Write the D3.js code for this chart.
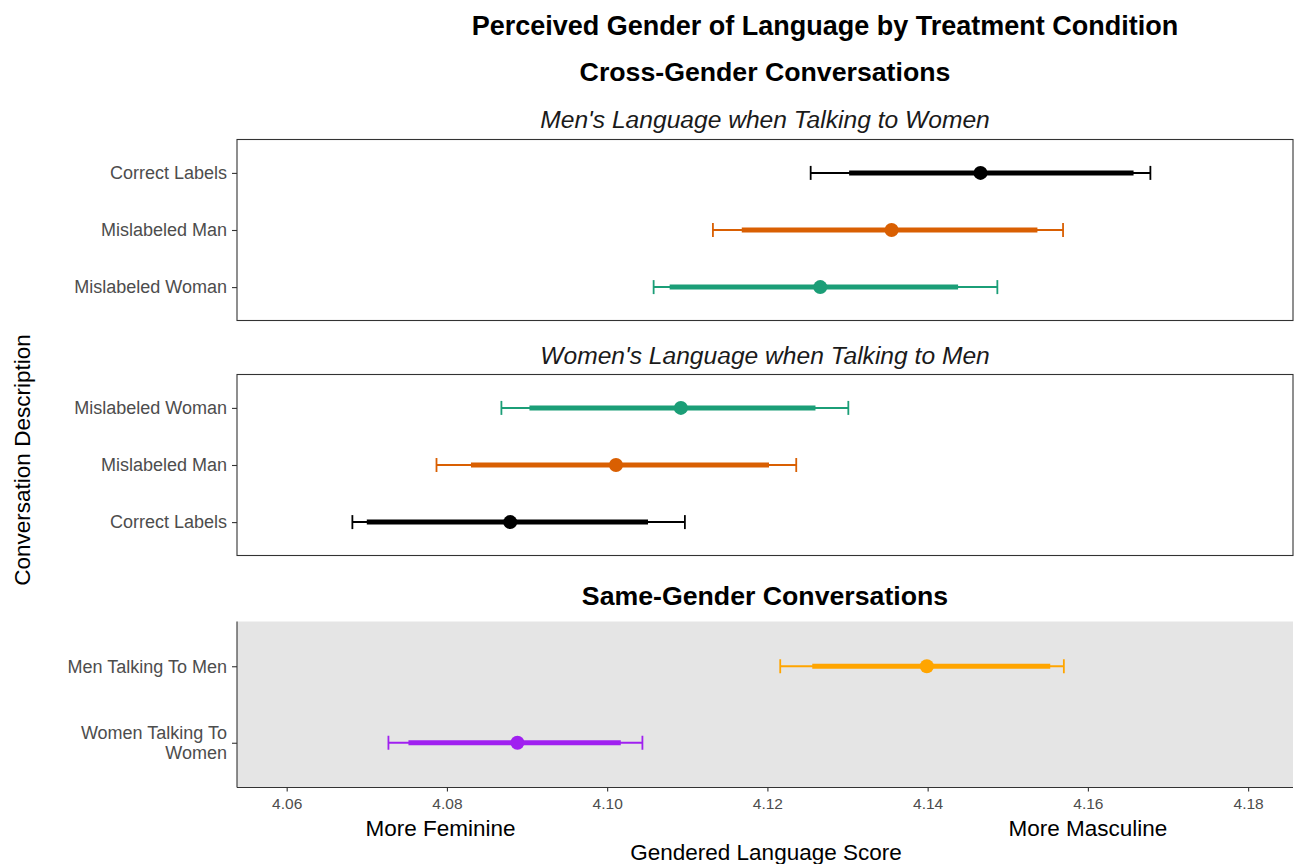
<!DOCTYPE html>
<html>
<head>
<meta charset="utf-8">
<script src="https://cdn.jsdelivr.net/npm/d3@7/dist/d3.min.js"></script>
<style>
  body { margin: 0; background: #fff; }
  svg { display: block; font-family: "Liberation Sans", Arial, Helvetica, sans-serif; }
</style>
</head>
<body>
<svg id="chart" width="1298" height="864"></svg>
<script>
// ---------------- DATA ----------------
const xTicks = [4.06, 4.08, 4.10, 4.12, 4.14, 4.16, 4.18];
const xTickLabels = ["4.06", "4.08", "4.10", "4.12", "4.14", "4.16", "4.18"];
const xDomain = [4.0538, 4.1856];

const mainTitle = "Perceived Gender of Language by Treatment Condition";
const crossTitle = "Cross-Gender Conversations";
const sameTitle = "Same-Gender Conversations";
const xAxisTitle = "Gendered Language Score";
const yAxisTitle = "Conversation Description";
const directionLabels = ["More Feminine", "More Masculine"];
const directionValues = [4.0792, 4.16];

// Panel 1: Men's Language when Talking to Women
const p1Title = "Men's Language when Talking to Women";
const p1Categories = ["Correct Labels", "Mislabeled Man", "Mislabeled Woman"];
const p1Estimate = [4.1466, 4.1355, 4.1266];
const p1Low95 = [4.1254, 4.1132, 4.1058];
const p1High95 = [4.1678, 4.1569, 4.1487];
const p1Low90 = [4.1302, 4.1168, 4.1078];
const p1High90 = [4.1657, 4.1537, 4.1438];
const p1Colors = ["#000000", "#D95F02", "#1B9E77"];

// Panel 2: Women's Language when Talking to Men
const p2Title = "Women's Language when Talking to Men";
const p2Categories = ["Mislabeled Woman", "Mislabeled Man", "Correct Labels"];
const p2Estimate = [4.1092, 4.1011, 4.0879];
const p2Low95 = [4.0868, 4.0787, 4.0682];
const p2High95 = [4.1301, 4.1236, 4.1097];
const p2Low90 = [4.0903, 4.0830, 4.0700];
const p2High90 = [4.1260, 4.1202, 4.1051];
const p2Colors = ["#1B9E77", "#D95F02", "#000000"];

// Panel 3: Same-gender conversations
const p3Categories = ["Men Talking To Men", "Women Talking To Women"];
const p3Estimate = [4.1399, 4.0888];
const p3Low95 = [4.1216, 4.0727];
const p3High95 = [4.1570, 4.1044];
const p3Low90 = [4.1256, 4.0752];
const p3High90 = [4.1553, 4.1017];
const p3Colors = ["#FFA500", "#A020F0"];

// ---------------- LAYOUT ----------------
const svg = d3.select("#chart");
const left = 237, right = 1293;
const x = d3.scaleLinear().domain(xDomain).range([left, right]);

const panels = [
  { cats: p1Categories, est: p1Estimate, l95: p1Low95, h95: p1High95, l90: p1Low90, h90: p1High90, cols: p1Colors, top: 139.5, bottom: 320.5, bg: "#ffffff", border: true },
  { cats: p2Categories, est: p2Estimate, l95: p2Low95, h95: p2High95, l90: p2Low90, h90: p2High90, cols: p2Colors, top: 374.5, bottom: 555.5, bg: "#ffffff", border: true },
  { cats: p3Categories, est: p3Estimate, l95: p3Low95, h95: p3High95, l90: p3Low90, h90: p3High90, cols: p3Colors, top: 621.5, bottom: 787.5, bg: "#E5E5E5", border: false }
];

const centerX = (left + right) / 2;

svg.append("text").attr("x", 825).attr("y", 35).attr("text-anchor", "middle")
  .attr("font-weight", "bold").attr("font-size", 27).attr("fill", "#000").text(mainTitle);
svg.append("text").attr("x", centerX).attr("y", 81).attr("text-anchor", "middle")
  .attr("font-weight", "bold").attr("font-size", 26.7).attr("fill", "#000").text(crossTitle);
svg.append("text").attr("x", centerX).attr("y", 127.5).attr("text-anchor", "middle")
  .attr("font-style", "italic").attr("font-size", 24.6).attr("fill", "#1a1a1a").text(p1Title);
svg.append("text").attr("x", centerX).attr("y", 363.5).attr("text-anchor", "middle")
  .attr("font-style", "italic").attr("font-size", 24.6).attr("fill", "#1a1a1a").text(p2Title);
svg.append("text").attr("x", centerX).attr("y", 605).attr("text-anchor", "middle")
  .attr("font-weight", "bold").attr("font-size", 26.7).attr("fill", "#000").text(sameTitle);

panels.forEach((p, pi) => {
  const y = d3.scalePoint().domain(p.cats).range([p.top, p.bottom]).padding(0.585);
  const g = svg.append("g");
  g.append("rect").attr("x", left).attr("y", p.top).attr("width", right - left).attr("height", p.bottom - p.top)
    .attr("fill", p.bg).attr("stroke", p.border ? "#333333" : "none").attr("stroke-width", 1.1);
  if (!p.border) {
    g.append("line").attr("x1", left).attr("x2", left).attr("y1", p.top).attr("y2", p.bottom).attr("stroke", "#333").attr("stroke-width", 1.1);
    g.append("line").attr("x1", left).attr("x2", right).attr("y1", p.bottom).attr("y2", p.bottom).attr("stroke", "#333").attr("stroke-width", 1.1);
  }
  // y axis
  const yAxis = d3.axisLeft(y).tickSize(5).tickPadding(5);
  const ya = g.append("g").attr("transform", `translate(${left},0)`).call(yAxis);
  ya.select(".domain").remove();
  ya.selectAll(".tick line").attr("stroke", "#333").attr("stroke-width", 1.1);
  ya.selectAll(".tick text").attr("fill", "#4d4d4d").attr("font-size", 18)
    .attr("font-family", "Liberation Sans, Arial, sans-serif");
  // wrap long label
  ya.selectAll(".tick text").each(function(d) {
    if (d === "Women Talking To Women") {
      const t = d3.select(this);
      t.text(null);
      t.append("tspan").attr("x", -10).attr("dy", "-0.25em").text("Women Talking To");
      t.append("tspan").attr("x", -10).attr("dy", "1.12em").text("Women");
    }
  });

  p.cats.forEach((c, i) => {
    const cy = y(c);
    const col = p.cols[i];
    g.append("line").attr("x1", x(p.l95[i])).attr("x2", x(p.h95[i])).attr("y1", cy).attr("y2", cy)
      .attr("stroke", col).attr("stroke-width", 2);
    [p.l95[i], p.h95[i]].forEach(v => {
      g.append("line").attr("x1", x(v)).attr("x2", x(v)).attr("y1", cy - 7).attr("y2", cy + 7)
        .attr("stroke", col).attr("stroke-width", 1.8);
    });
    g.append("line").attr("x1", x(p.l90[i])).attr("x2", x(p.h90[i])).attr("y1", cy).attr("y2", cy)
      .attr("stroke", col).attr("stroke-width", 5);
    g.append("circle").attr("cx", x(p.est[i])).attr("cy", cy).attr("r", 7).attr("fill", col);
  });

  if (pi === 2) {
    const xa = svg.append("g").attr("transform", `translate(0,${p.bottom})`)
      .call(d3.axisBottom(x).tickValues(xTicks).tickFormat((d, i) => xTickLabels[i]).tickSize(4).tickPadding(6));
    xa.select(".domain").remove();
    xa.selectAll(".tick line").attr("stroke", "#333").attr("stroke-width", 1.1);
    xa.selectAll(".tick text").attr("fill", "#4d4d4d").attr("font-size", 15.5)
      .attr("font-family", "Liberation Sans, Arial, sans-serif");
  }
});

directionLabels.forEach((t, i) => {
  svg.append("text").attr("x", x(directionValues[i])).attr("y", 836).attr("text-anchor", "middle")
    .attr("font-size", 22.5).attr("fill", "#000").text(t);
});
svg.append("text").attr("x", 766).attr("y", 860).attr("text-anchor", "middle")
  .attr("font-size", 22.5).attr("fill", "#000").text(xAxisTitle);
svg.append("text").attr("transform", "translate(30,460) rotate(-90)").attr("text-anchor", "middle")
  .attr("font-size", 22.5).attr("fill", "#000").text(yAxisTitle);
</script>
</body>
</html>
